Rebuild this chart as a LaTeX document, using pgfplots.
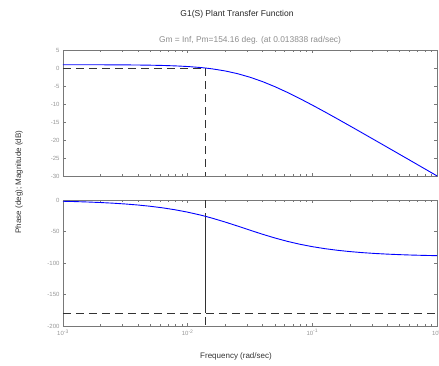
\documentclass[border=0pt]{standalone}
\usepackage{pgfplots}
\pgfplotsset{compat=1.18}
\usepackage{fontspec}
\setmainfont{Liberation Sans}
\definecolor{axgray}{RGB}{120,120,120}
\definecolor{lblgray}{RGB}{150,150,150}
\definecolor{subgray}{RGB}{140,140,140}
\definecolor{mblue}{RGB}{0,0,255}
\definecolor{dashk}{RGB}{50,50,50}
\pgfplotsset{
  bode/.style={
    scale only axis, width=374pt, height=126pt,
    xmin=1e-3, xmax=1,
    axis line style={axgray, line width=0.8pt},
    every tick/.style={axgray, line width=0.5pt},
    tick align=inside, tickpos=both,
    major tick length=3pt, minor tick length=2pt,
    xtick={0.001,0.01,0.1,1},
    minor xtick={0.002,0.003,0.004,0.005,0.006,0.007,0.008,0.009,
                 0.02,0.03,0.04,0.05,0.06,0.07,0.08,0.09,
                 0.2,0.3,0.4,0.5,0.6,0.7,0.8,0.9},
    tick label style={font=\fontsize{6}{7}\selectfont, text=lblgray},
    clip=false,
  }
}
\begin{document}
\begin{tikzpicture}[x=1pt,y=1pt]
\useasboundingbox (0,0) rectangle (439,365);
% Magnitude
\begin{axis}[xmode=log, bode, at={(63pt,189pt)}, anchor=south west,
  ymin=-30, ymax=5,
  ytick={-30,-25,-20,-15,-10,-5,0,5},
  yticklabels={-30,-25,-20,-15,-10,-5,0,5},
  xticklabels={}]
\addplot[dashk, dash pattern=on 8pt off 5pt, line width=0.7pt] coordinates {(0.001,0) (0.013838,0)};
\addplot[dashk, dash pattern=on 8pt off 5pt, line width=0.7pt] coordinates {(0.013838,0) (0.013838,-30)};
\addplot[mblue, line width=0.9pt] coordinates {
(0.001,0.910) (0.001259,0.907) (0.001585,0.902) (0.001995,0.894) (0.002512,0.882)
(0.003162,0.862) (0.003981,0.831) (0.005012,0.783) (0.00631,0.708) (0.007943,0.592)
(0.01,0.413) (0.01259,0.144) (0.013838,0.0) (0.01585,-0.251) (0.01995,-0.810)
(0.02512,-1.572) (0.03162,-2.559) (0.03981,-3.771) (0.05012,-5.190) (0.0631,-6.777)
(0.07943,-8.495) (0.1,-10.307) (0.1259,-12.185) (0.1585,-14.107) (0.1995,-16.055)
(0.2512,-18.023) (0.3162,-20.005) (0.3981,-21.99) (0.5012,-23.98) (0.631,-25.97)
(0.7943,-27.97) (1,-29.97)};
\end{axis}
% Phase
\begin{axis}[xmode=log, bode, at={(63pt,39pt)}, anchor=south west,
  ymin=-200, ymax=0,
  ytick={-200,-150,-100,-50,0},
  yticklabels={-200,-150,-100,-50,0},
  xticklabels={10\textsuperscript{-3},10\textsuperscript{-2},10\textsuperscript{-1},10\textsuperscript{0}}]
\addplot[dashk, dash pattern=on 8pt off 5pt, line width=0.7pt] coordinates {(0.001,-180) (1,-180)};
\addplot[dashk, dash pattern=on 8pt off 5pt, line width=0.7pt] coordinates {(0.013838,0) (0.013838,-200)};
\addplot[dashk, line width=0.8pt] coordinates {(0.013838,-25.84) (0.013838,-180)};
\addplot[mblue, line width=0.9pt] coordinates {
(0.001,-2.00) (0.001259,-2.52) (0.001585,-3.18) (0.001995,-4.00) (0.002512,-5.02)
(0.003162,-6.32) (0.003981,-7.93) (0.005012,-9.95) (0.00631,-12.45) (0.007943,-15.54)
(0.01,-19.29) (0.01259,-23.78) (0.013838,-25.84) (0.01585,-29.02) (0.01995,-34.93)
(0.02512,-41.32) (0.03162,-47.90) (0.03981,-54.33) (0.05012,-60.30) (0.0631,-65.64)
(0.07943,-70.22) (0.1,-74.05) (0.1259,-77.22) (0.1585,-79.78) (0.1995,-81.85)
(0.2512,-83.51) (0.3162,-84.84) (0.3981,-85.89) (0.5012,-86.74) (0.631,-87.41)
(0.7943,-87.94) (1,-88.36)};
\end{axis}
\node[font=\fontsize{8.5}{10}\selectfont, text=black!85] at (237,351) {G1(S) Plant Transfer Function};
\node[font=\fontsize{8.4}{10}\selectfont, text=subgray] at (250,325) {Gm = Inf, Pm=154.16 deg. (at 0.013838 rad/sec)};
\node[font=\fontsize{8}{10}\selectfont, text=black!80] at (236,9) {Frequency (rad/sec)};
\node[font=\fontsize{8}{10}\selectfont, text=black!80, rotate=90] at (19,183) {Phase (deg); Magnitude (dB)};
\end{tikzpicture}
\end{document}
